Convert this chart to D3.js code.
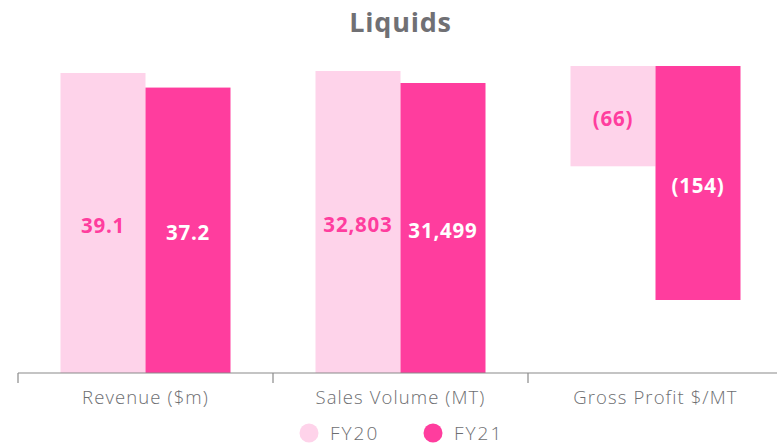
<!DOCTYPE html>
<html><head><meta charset="utf-8">
<script src="https://cdn.jsdelivr.net/npm/d3@7"></script>
<style>body{margin:0;background:#fff}svg{display:block}</style>
</head><body>
<svg id="c" width="777" height="445"></svg>
<script>
const categories = ["Revenue ($m)", "Sales Volume (MT)", "Gross Profit $/MT"];
const seriesNames = ["FY20", "FY21"];
const fy20 = [39.1, 32803, -66];
const fy21 = [37.2, 31499, -154];
const labels20 = ["39.1", "32,803", "(66)"];
const labels21 = ["37.2", "31,499", "(154)"];
const title = "Liquids";

const colors = {FY20: "#fed3ea", FY21: "#ff3d9e"};
const labelColors = {FY20: "#ff3d9e", FY21: "#ffffff"};
const font = "'Open Sans', sans-serif";
const svg = d3.select("#c");

const baseY = 373;
const x = d3.scaleBand().domain(categories).range([18, 783]);
const xs = d3.scaleBand().domain(seriesNames).range([0, 170]);
// each category has its own value scale
const yScales = [
  d3.scaleLinear().domain([0, 39.1]).range([baseY, 73]),
  d3.scaleLinear().domain([0, 32803]).range([baseY, 71]),
  d3.scaleLinear().domain([-154, 0]).range([300, 66])
];

svg.append("text").attr("x", 400.5).attr("y", 32).attr("text-anchor", "middle")
  .attr("font-family", font).attr("font-weight", 700).attr("font-size", 27)
  .attr("letter-spacing", 0.8)
  .attr("fill", "#707074").text(title);

const series = [
  {name: "FY20", values: fy20, labels: labels20},
  {name: "FY21", values: fy21, labels: labels21}
];

series.forEach(s => {
  categories.forEach((c, i) => {
    const y = yScales[i];
    const v = s.values[i];
    const y0 = y(0), y1 = y(v);
    const top = Math.min(y0, y1), h = Math.abs(y1 - y0);
    const bx = x(c) + (x.bandwidth() - 170) / 2 + xs(s.name);
    svg.append("rect").attr("x", bx).attr("y", top).attr("width", xs.bandwidth())
      .attr("height", h).attr("fill", colors[s.name]);
    svg.append("text").attr("x", bx + xs.bandwidth() / 2).attr("y", top + h / 2 + 3)
      .attr("dy", "0.35em").attr("text-anchor", "middle")
      .attr("font-family", font).attr("font-weight", 700).attr("font-size", 20.5)
      .attr("letter-spacing", 0.8)
      .attr("fill", labelColors[s.name]).text(s.labels[i]);
  });
});

// axis
const axis = svg.append("g").attr("transform", `translate(0,${baseY})`);
axis.append("line").attr("x1", 18).attr("x2", 777).attr("y1", 0).attr("y2", 0)
  .attr("stroke", "#8a8a8a").attr("stroke-width", 1.2);
categories.forEach(c => {
  axis.append("line").attr("x1", x(c)).attr("x2", x(c)).attr("y1", 0).attr("y2", 10)
    .attr("stroke", "#8a8a8a").attr("stroke-width", 1.2);
  axis.append("text").attr("x", x(c) + x.bandwidth() / 2).attr("y", 30.5)
    .attr("text-anchor", "middle").attr("font-family", font).attr("font-size", 18.5)
    .attr("font-weight", 300).attr("letter-spacing", 1.1)
    .attr("fill", "#6d6e71").text(c);
});

// legend
const legendX = [309, 433];
seriesNames.forEach((n, i) => {
  svg.append("circle").attr("cx", legendX[i]).attr("cy", 433).attr("r", 9.5)
    .attr("fill", colors[n]);
  svg.append("text").attr("x", legendX[i] + 21).attr("y", 440)
    .attr("font-family", font).attr("font-size", 19).attr("font-weight", 300)
    .attr("letter-spacing", 2)
    .attr("fill", "#6d6e71").text(n);
});
</script>
</body></html>
